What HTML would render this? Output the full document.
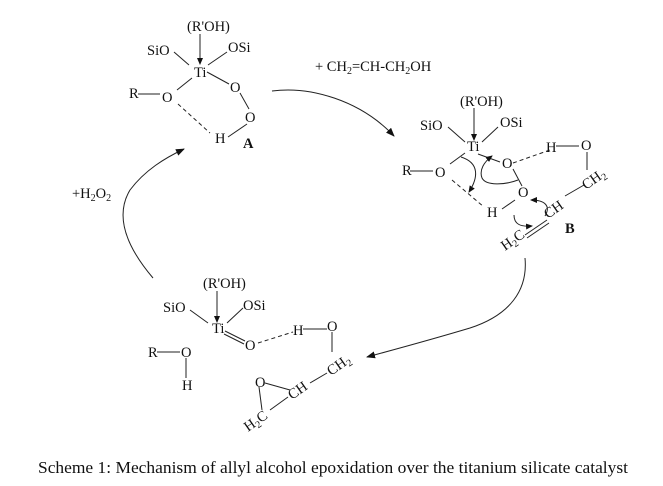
<!DOCTYPE html>
<html><head><meta charset="utf-8"><style>
html,body{margin:0;padding:0;background:#fff;}
svg{display:block;}
svg text{font-family:"Liberation Serif","Times New Roman",Times,serif;fill:#111;font-size:14.5px;}
.b{font-weight:bold;}
</style></head><body>
<svg width="663" height="486" viewBox="0 0 663 486" xmlns="http://www.w3.org/2000/svg" font-family="Liberation Serif, Times New Roman, serif">
<defs>
<marker id="ah" markerWidth="9" markerHeight="7" refX="8" refY="3.5" orient="auto" markerUnits="userSpaceOnUse">
<path d="M0,0 L9,3.5 L0,7 z" fill="#111"/></marker>
<marker id="sh" markerWidth="7" markerHeight="6" refX="6" refY="3" orient="auto" markerUnits="userSpaceOnUse">
<path d="M0,0 L7,3 L0,6 z" fill="#111"/></marker>
</defs>
<g stroke="#222" stroke-width="1" fill="none">
<!-- A -->
<line x1="200" y1="34" x2="200" y2="64" marker-end="url(#sh)"/>
<line x1="174" y1="52" x2="189" y2="65"/>
<line x1="227" y1="52" x2="208" y2="65"/>
<line x1="192" y1="78" x2="177" y2="90"/>
<line x1="138" y1="94" x2="160" y2="94"/>
<line x1="207" y1="72" x2="229" y2="84"/>
<line x1="240" y1="93" x2="249" y2="109"/>
<line x1="247" y1="124" x2="228" y2="137"/>
<line x1="178" y1="104" x2="210" y2="133" stroke-dasharray="4,3"/>
<!-- top arrow -->
<path d="M272,91 C310,86 360,100 394,136" marker-end="url(#ah)"/>
<!-- left arrow -->
<path d="M153,278 C125,245 115,215 130,190 C145,170 165,158 184,149" marker-end="url(#ah)"/>
<!-- right-bottom arrow -->
<path d="M525,258 C528,290 510,315 470,328 C430,340 400,348 367,357" marker-end="url(#ah)"/>
<!-- B -->
<line x1="474" y1="108" x2="474" y2="140" marker-end="url(#sh)"/>
<line x1="448" y1="127" x2="465" y2="142"/>
<line x1="498" y1="127" x2="482" y2="142"/>
<line x1="410" y1="171" x2="433" y2="171"/>
<line x1="465" y1="153" x2="450" y2="164"/>
<line x1="478" y1="154" x2="500" y2="162"/>
<line x1="513" y1="163" x2="550" y2="150" stroke-dasharray="4,3"/>
<line x1="556" y1="146" x2="579" y2="146"/>
<line x1="587" y1="152" x2="587" y2="170"/>
<line x1="513" y1="169" x2="522" y2="186"/>
<line x1="452" y1="180" x2="484" y2="207" stroke-dasharray="4,3"/>
<line x1="502" y1="209" x2="515" y2="200"/>
<line x1="565" y1="196" x2="584" y2="185"/>
<line x1="525" y1="235" x2="547" y2="220"/>
<line x1="527" y1="238" x2="549" y2="223"/>
<path d="M461,157 C480,163 478,178 469,192" marker-end="url(#sh)"/>
<path d="M518,180 C505,185 486,186 482,178 C479,170 484,162 492,156" marker-end="url(#sh)"/>
<path d="M514,215 C514,224 520,227 532,226" marker-end="url(#sh)"/>
<path d="M545,216 C551,206 545,200 531,200" marker-end="url(#sh)"/>
<!-- C -->
<line x1="217" y1="291" x2="217" y2="322" marker-end="url(#sh)"/>
<line x1="190" y1="310" x2="208" y2="323"/>
<line x1="243" y1="308" x2="227" y2="323"/>
<line x1="225" y1="331" x2="245" y2="341"/>
<line x1="224" y1="334" x2="244" y2="344"/>
<line x1="258" y1="343" x2="293" y2="332" stroke-dasharray="4,3"/>
<line x1="303" y1="329" x2="327" y2="329"/>
<line x1="332" y1="332" x2="332" y2="352"/>
<line x1="327" y1="373" x2="310" y2="383"/>
<line x1="265" y1="383" x2="290" y2="390"/>
<line x1="259" y1="387" x2="262" y2="410"/>
<line x1="270" y1="410" x2="288" y2="397"/>
<line x1="157" y1="352" x2="180" y2="352"/>
<line x1="186" y1="358" x2="186" y2="378"/>
</g>
<!-- A text -->
<text x="187" y="31">(R'OH)</text>
<text x="147" y="55">SiO</text>
<text x="228" y="52">OSi</text>
<text x="194" y="77">Ti</text>
<text x="129" y="98">R</text>
<text x="162" y="102">O</text>
<text x="230" y="92">O</text>
<text x="245" y="122">O</text>
<text x="215" y="143">H</text>
<text x="243" y="148" class="b">A</text>
<text x="315" y="71">+ CH<tspan font-size="10" dy="3">2</tspan><tspan dy="-3">=CH-CH</tspan><tspan font-size="10" dy="3">2</tspan><tspan dy="-3">OH</tspan></text>
<text x="72" y="198">+H<tspan font-size="10" dy="3">2</tspan><tspan dy="-3">O</tspan><tspan font-size="10" dy="3">2</tspan></text>
<!-- B text -->
<text x="460" y="106">(R'OH)</text>
<text x="420" y="130">SiO</text>
<text x="500" y="127">OSi</text>
<text x="467" y="151">Ti</text>
<text x="402" y="175">R</text>
<text x="435" y="177">O</text>
<text x="502" y="168">O</text>
<text x="546" y="152">H</text>
<text x="581" y="150">O</text>
<text x="518" y="197">O</text>
<text x="487" y="217">H</text>
<text class="b" x="565" y="233">B</text>
<text transform="translate(586,190) rotate(-35)">CH<tspan font-size="10" dy="3">2</tspan></text>
<text transform="translate(548,219) rotate(-35)">CH</text>
<text transform="translate(505,251) rotate(-35)">H<tspan font-size="10" dy="3">2</tspan><tspan dy="-3">C</tspan></text>
<!-- C text -->
<text x="203" y="288">(R'OH)</text>
<text x="163" y="312">SiO</text>
<text x="243" y="310">OSi</text>
<text x="212" y="333">Ti</text>
<text x="245" y="350">O</text>
<text x="293" y="335">H</text>
<text x="327" y="331">O</text>
<text x="255" y="387">O</text>
<text x="148" y="357">R</text>
<text x="181" y="357">O</text>
<text x="182" y="390">H</text>
<text transform="translate(331,376) rotate(-35)">CH<tspan font-size="10" dy="3">2</tspan></text>
<text transform="translate(292,400) rotate(-35)">CH</text>
<text transform="translate(248,432) rotate(-35)">H<tspan font-size="10" dy="3">2</tspan><tspan dy="-3">C</tspan></text>
<!-- caption -->
<text x="38" y="473" style="font-size:17px" textLength="590" lengthAdjust="spacingAndGlyphs">Scheme 1: Mechanism of allyl alcohol epoxidation over the titanium silicate catalyst</text>
</svg>
</body></html>
